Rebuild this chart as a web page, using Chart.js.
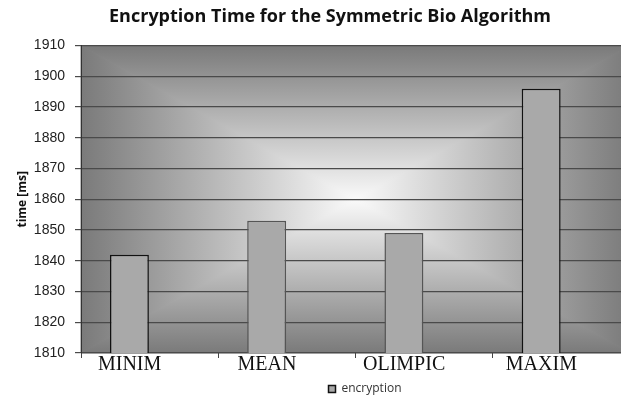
<!DOCTYPE html>
<html>
<head>
<meta charset="utf-8">
<script src="https://cdn.jsdelivr.net/npm/chart.js@4"></script>
<style>
html, body { margin: 0; padding: 0; overflow: hidden; background: #fff; }
#wrap { width: 630px; height: 405px; }
</style>
</head>
<body>
<div id="wrap"><canvas id="barChart"></canvas></div>
<script>
var categories = ['MINIM', 'MEAN', 'OLIMPIC', 'MAXIM'];
var encryption = [1842, 1853, 1849, 1896];
var yMin = 1810;
var yMax = 1910;
var yStep = 10;

// excel style "from center" rectangle gradient behind the plot
var plotBackground = {
    id: 'plotBackground',
    beforeDraw: function(chart) {
        var a = chart.chartArea, ctx = chart.ctx;
        var cx = (a.left + a.right) / 2, cy = (a.top + a.bottom) / 2;
        var parts = [
            [[a.left, a.top], [a.left, a.bottom], a.left, cy],
            [[a.left, a.top], [a.right, a.top], cx, a.top],
            [[a.right, a.top], [a.right, a.bottom], a.right, cy],
            [[a.left, a.bottom], [a.right, a.bottom], cx, a.bottom]
        ];
        ctx.save();
        ctx.fillStyle = '#b0b0b0';
        ctx.fillRect(a.left, a.top, a.right - a.left, a.bottom - a.top);
        parts.forEach(function(p) {
            var g = ctx.createLinearGradient(cx, cy, p[2], p[3]);
            g.addColorStop(0, '#fafafa');
            g.addColorStop(1, '#7a7a7a');
            ctx.fillStyle = g;
            ctx.strokeStyle = g;
            ctx.lineWidth = 1;
            ctx.beginPath();
            ctx.moveTo(cx, cy);
            ctx.lineTo(p[0][0], p[0][1]);
            ctx.lineTo(p[1][0], p[1][1]);
            ctx.closePath();
            ctx.fill();
            ctx.stroke();
        });
        ctx.restore();
    }
};

// title and legend sit a bit right of the middle in the original
var shiftBlocks = {
    id: 'shiftBlocks',
    afterLayout: function(chart) {
        chart.legend.left += 50;
        chart.legend.right += 50;
        chart.titleBlock.left += 15;
        chart.titleBlock.right += 15;
    }
};

var ctx = document.getElementById('barChart').getContext('2d');
var myChart = new Chart(ctx, {
    type: 'bar',
    data: {
        labels: categories,
        datasets: [{
            label: 'encryption',
            data: encryption,
            backgroundColor: '#a9a9a9',
            borderColor: function(c) {
                return (c.dataIndex === 1 || c.dataIndex === 2) ? '#555' : '#111';
            },
            borderWidth: 1.5,
            borderSkipped: false,
            barPercentage: 0.963,
            categoryPercentage: 0.589
        },
        {
            // empty slot so the bars sit left in each category
            label: '',
            data: categories.map(function() { return null; }),
            barPercentage: 0.963,
            categoryPercentage: 0.589
        }]
    },
    options: {
        responsive: true,
        maintainAspectRatio: false,
        animation: false,
        layout: { padding: 0 },
        plugins: {
            title: {
                display: true,
                text: 'Encryption Time for the Symmetric Bio Algorithm',
                color: '#111',
                font: { family: 'Open Sans', size: 18, weight: 'bold' },
                padding: { top: 6, bottom: 18 }
            },
            legend: {
                position: 'bottom',
                labels: {
                    filter: function(item) { return item.datasetIndex === 0; },
                    boxWidth: 7,
                    boxHeight: 7,
                    padding: 9,
                    color: '#333',
                    font: { family: 'Open Sans', size: 12 }
                }
            },
            tooltip: { enabled: false }
        },
        scales: {
            x: {
                grid: {
                    offset: true,
                    drawOnChartArea: false,
                    tickLength: 5,
                    color: '#444'
                },
                border: { display: false },
                ticks: {
                    labelOffset: -20,
                    padding: -5,
                    color: '#111',
                    font: { family: 'Liberation Serif', size: 20 }
                },
                afterFit: function(scale) { scale.height = 21; }
            },
            y: {
                min: yMin,
                max: yMax,
                ticks: {
                    stepSize: yStep,
                    padding: 10,
                    color: '#222',
                    font: { family: 'Liberation Sans', size: 14 },
                    callback: function(v) { return String(v); }
                },
                grid: { color: '#4a4a4a', lineWidth: 1.2, tickLength: 6 },
                border: { color: '#333', width: 1 },
                title: {
                    display: true,
                    text: 'time [ms]',
                    color: '#111',
                    font: { family: 'Open Sans', size: 12, weight: 'bold' },
                    padding: { top: 15, bottom: 0 }
                },
                afterFit: function(scale) { scale.width = 81; }
            }
        }
    },
    plugins: [plotBackground, shiftBlocks]
});
</script>
</body>
</html>
